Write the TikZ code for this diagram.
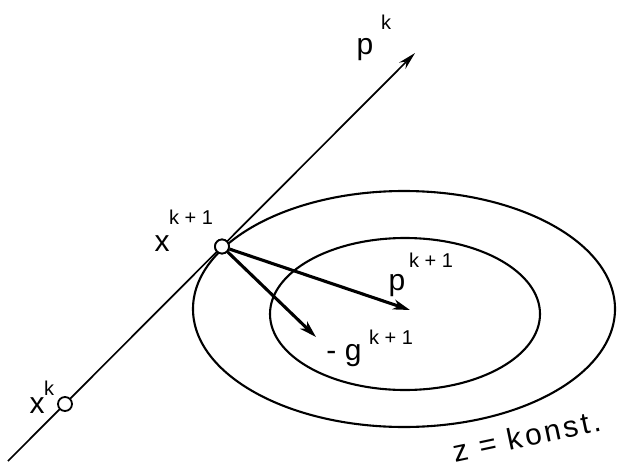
\documentclass[tikz,border=0pt]{standalone}
\usepackage{fontspec}
\setmainfont{Liberation Sans}
\usetikzlibrary{arrows.meta}
\tikzset{
  base/.style={inner sep=0pt, font=\fontsize{30}{34}\selectfont},
  supr/.style={inner sep=0pt, font=\fontsize{20}{24}\selectfont},
  contour/.style={line width=2.1pt},
  vec/.style={line width=3.1pt, -{Stealth[length=17pt,width=10pt,inset=5pt]}},
  pt/.style={circle, draw, line width=1.8pt, fill=white, minimum size=14pt, inner sep=0pt}
}
\begin{document}
\begin{tikzpicture}[x=1pt,y=-1pt]
\useasboundingbox (0,0) rectangle (621,471);
% contour lines
\draw[contour] (404,309) ellipse [x radius=211, y radius=118];
\draw[contour] (405,314) ellipse [x radius=135, y radius=76];
% search line
\coordinate (L0) at (8,461);
\coordinate (L1) at (415,53);
\draw[line width=1.7pt, -{Stealth[length=18pt,width=9pt,inset=6pt]}] (L0) -- (L1);
% vectors
\coordinate (ptip) at (410,310);
\coordinate (gtip) at (316,337);
\node[pt] (xk1) at (222,246.5) {};
\draw[vec] (xk1) -- (ptip);
\draw[vec] (xk1) -- (gtip);
\node[pt] (xk1b) at (222,246.5) {};
\node[pt] (xk) at (65,404) {};
% labels
\node[base] (lxk) at (37,406) {x};
\node[supr] (lxks) at (49,388) {k};
\node[base] (lxk1) at (162,244) {x};
\node[supr] (lxk1s) at (191,217) {k + 1};
\node[base] (lpk) at (365,50) {p};
\node[supr] (lpks) at (386,22) {k};
\node[base] (lpk1) at (397,286) {p};
\node[supr] (lpk1s) at (431,260) {k + 1};
\node[base] (lg) at (344,356) {- g};
\node[supr] (lgs) at (391,337) {k + 1};
\node[inner sep=0pt, font=\fontsize{30}{34}\selectfont\addfontfeature{LetterSpace=10}, rotate=12] (lz) at (527,436) {z = konst.};
\end{tikzpicture}
\end{document}
